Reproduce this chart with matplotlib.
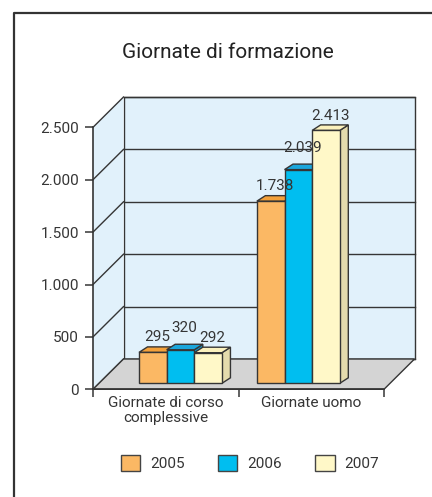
import matplotlib
matplotlib.use("Agg")
import matplotlib.pyplot as plt
from matplotlib.patches import Polygon, Patch
from matplotlib.lines import Line2D
import numpy as np

# dati
categorie = ["Giornate di corso\ncomplessive", "Giornate uomo"]
anni = ["2005", "2006", "2007"]
val_2005 = [295, 1738]
val_2006 = [320, 2039]
val_2007 = [292, 2413]
serie = [val_2005, val_2006, val_2007]
yticks = [0, 500, 1000, 1500, 2000, 2500]

# colori (fronte, top, lato)
col_front = ["#fbb864", "#00bef0", "#fff8c8"]
col_top = ["#f4a13a", "#1aa6dc", "#fbf1bd"]
col_side = ["#e8962f", "#0b97cc", "#e4dbad"]
wall = "#e1f1fb"
floor = "#d4d4d4"
ink = "#353535"
fs = 11
label_pad = [6, 12, 5]  # px sopra la barra, per serie

plt.rcParams["font.family"] = ["Roboto", "DejaVu Sans"]

W, H = 432, 497
fig = plt.figure(figsize=(W / 100, H / 100), dpi=100)
ax_l, ax_b, ax_w, ax_h = 93 / W, (H - 389.3) / H, 291 / W, 262 / H
ax = fig.add_axes([ax_l, ax_b, ax_w, ax_h])
ax.set_xlim(0, 2)
ax.set_ylim(0, 2500)
ax.set_facecolor("none")

# pixel -> unita dati
kx = ax_w * W / 2
ky = ax_h * H / 2500

def off(x, y, dx, dy):
    return (x + dx / kx, y + dy / ky)

wd = (30.5, 30.3)   # profondita pareti
bo = (6, 6)         # posizione barre nella profondita
bd = (8.5, 5.5)     # profondita barre

def poly(pts, fc, z, ec=ink, lw=1.0):
    ax.add_patch(Polygon(pts, closed=True, facecolor=fc, edgecolor=ec,
                         linewidth=lw, zorder=z, clip_on=False,
                         joinstyle="miter"))

# parete di fondo e laterale
poly([off(0, 0, *wd), off(2, 0, *wd), off(2, 2500, *wd), off(0, 2500, *wd)], wall, 0.5)
poly([(0, 0), (0, 2500), off(0, 2500, *wd), off(0, 0, *wd)], wall, 0.6, ec="none")
for v in yticks:
    a, b = off(0, v, *wd), off(2, v, *wd)
    ax.plot([0, a[0]], [v, a[1]], color=ink, lw=1.0, zorder=0.8, clip_on=False)
    ax.plot([a[0], b[0]], [a[1], b[1]], color=ink, lw=1.0, zorder=0.8, clip_on=False)
# pavimento
poly([(0, 0), (2, 0), off(2, 0, *wd), off(0, 0, *wd)], floor, 1.0)

# barre
centri = np.array([0.56, 1.37])
bw = 0.19
for j, vals in enumerate(serie):
    for i, v in enumerate(vals):
        x0 = centri[i] - 1.5 * bw + j * bw
        x1 = x0 + bw
        p00, p10 = off(x0, 0, *bo), off(x1, 0, *bo)
        p01, p11 = off(x0, v, *bo), off(x1, v, *bo)
        d = lambda p: off(p[0], p[1], *bd)
        z = 3 + j
        poly([p10, p11, d(p11), d(p10)], col_side[j], z)
        poly([p01, p11, d(p11), d(p01)], col_top[j], z)
        poly([p00, p10, p11, p01], col_front[j], z)
        lx, ly = off((x0 + x1) / 2, v, bo[0] + bd[0] / 2,
                     bo[1] + bd[1] + label_pad[j])
        ax.text(lx, ly, f"{v:,}".replace(",", "."), ha="center", va="baseline",
                fontsize=fs, color=ink, zorder=10)

# assi
for s in ["top", "right"]:
    ax.spines[s].set_visible(False)
for s in ["left", "bottom"]:
    ax.spines[s].set_color(ink)
    ax.spines[s].set_linewidth(1.2)
    ax.spines[s].set_zorder(2)
ax.set_yticks(yticks)
ax.set_yticklabels([f"{v:,}".replace(",", ".") for v in yticks])
ax.tick_params(axis="y", length=6, width=1.1, color=ink, labelsize=fs,
               labelcolor=ink, pad=4)
ax.set_xticks([0, 1, 2])
ax.set_xticklabels([])
ax.tick_params(axis="x", which="major", length=5.5, width=1.1, color=ink)
ax.set_xticks([0.5, 1.5], minor=True)
ax.set_xticklabels(categorie, minor=True, linespacing=1.1)
ax.tick_params(axis="x", which="minor", length=0, labelsize=fs,
               labelcolor=ink, pad=4.5)

# titolo
fig.text(228 / W, 1 - 52 / H, "Giornate di formazione", ha="center", va="center",
         fontsize=15, color="#222")

# legenda
handles = [Patch(facecolor=c, edgecolor="#444", linewidth=1.0) for c in col_front]
fig.legend(handles, anni, loc="center", bbox_to_anchor=(250 / W, 1 - 463 / H),
           ncol=3, frameon=False, fontsize=fs, handlelength=1.25,
           handleheight=1.25, handletextpad=0.65, columnspacing=2.2,
           labelcolor=ink)

# cornice
fig.add_artist(Line2D([14 / W, 14 / W, 1.0], [0, 1 - 13 / H, 1 - 13 / H],
                      transform=fig.transFigure, color="#333", lw=1.6))

fig.savefig("out.png", dpi=100)
